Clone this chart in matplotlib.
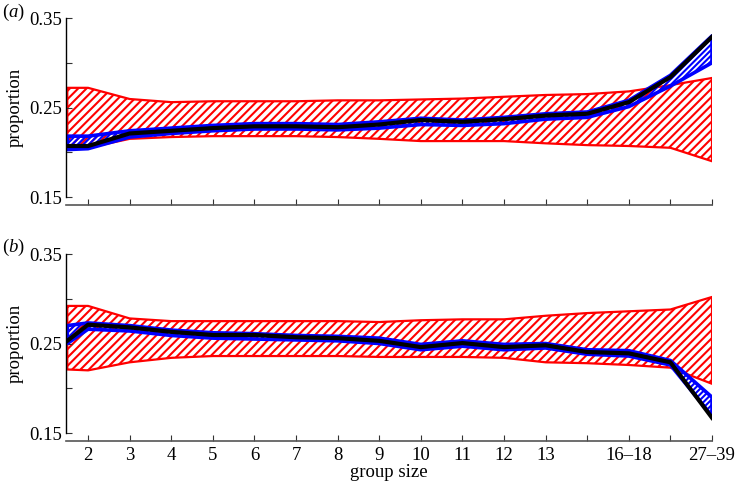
import matplotlib
matplotlib.use("Agg")

import matplotlib.pyplot as plt
import numpy as np

plt.rcParams["font.family"] = ["Liberation Serif", "DejaVu Serif"]
plt.rcParams["mathtext.fontset"] = "custom"
plt.rcParams["mathtext.rm"] = "Liberation Serif"
plt.rcParams["mathtext.it"] = "Liberation Serif:italic"
plt.rcParams["hatch.linewidth"] = 1.5

# category positions (first point sits at the clipped left edge)
pos = [1.5, 2, 3, 4, 5, 6, 7, 8, 9, 10, 11, 12, 13, 14, 15, 16, 17]
tick_pos = [2, 3, 4, 5, 6, 7, 8, 9, 10, 11, 12, 13, 14, 15, 16, 17]
tick_labels = ["2", "3", "4", "5", "6", "7", "8", "9", "10", "11", "12",
               "13", "", "16\u201318", "", "27\u201339"]

# panel (a)
red_hi_a = [0.272, 0.272, 0.2595, 0.256, 0.257, 0.257, 0.257, 0.258, 0.258,
            0.259, 0.260, 0.262, 0.264, 0.265, 0.268, 0.275, 0.283]
red_lo_a = [0.204, 0.205, 0.215, 0.217, 0.218, 0.218, 0.218, 0.217, 0.215,
            0.2125, 0.2125, 0.2125, 0.210, 0.208, 0.207, 0.205, 0.190]
blue_hi_a = [0.218, 0.218, 0.224, 0.227, 0.230, 0.232, 0.232, 0.231, 0.234,
             0.238, 0.236, 0.239, 0.243, 0.245, 0.258, 0.286, 0.330]
blue_lo_a = [0.203, 0.204, 0.217, 0.221, 0.224, 0.226, 0.226, 0.225, 0.227,
             0.231, 0.230, 0.232, 0.237, 0.239, 0.251, 0.274, 0.300]
black_a = [0.207, 0.207, 0.221, 0.224, 0.227, 0.229, 0.229, 0.228, 0.231,
           0.236, 0.234, 0.237, 0.241, 0.243, 0.256, 0.284, 0.329]

# panel (b)
red_hi_b = [0.292, 0.292, 0.278, 0.275, 0.275, 0.275, 0.275, 0.275, 0.274,
            0.276, 0.277, 0.277, 0.281, 0.284, 0.286, 0.288, 0.302]
red_lo_b = [0.221, 0.220, 0.229, 0.234, 0.236, 0.236, 0.236, 0.236, 0.235,
            0.235, 0.235, 0.234, 0.229, 0.228, 0.226, 0.223, 0.205]
blue_hi_b = [0.270, 0.273, 0.270, 0.265, 0.262, 0.261, 0.259, 0.258, 0.256,
             0.249, 0.253, 0.249, 0.250, 0.243, 0.242, 0.231, 0.190]
blue_lo_b = [0.250, 0.266, 0.264, 0.259, 0.256, 0.255, 0.254, 0.253, 0.250,
             0.243, 0.247, 0.243, 0.245, 0.238, 0.236, 0.226, 0.169]
black_b = [0.253, 0.271, 0.268, 0.263, 0.2595, 0.2595, 0.257, 0.256, 0.253,
           0.246, 0.2505, 0.246, 0.248, 0.2405, 0.239, 0.229, 0.167]

fig = plt.figure(figsize=(7.37, 4.83), dpi=100)
ax_a = fig.add_axes([0.0896, 0.5921, 0.8765, 0.3706])
ax_b = fig.add_axes([0.0896, 0.1035, 0.8765, 0.3706])


def draw_panel(ax, red_hi, red_lo, blue_hi, blue_lo, black, show_labels):
    ax.fill_between(pos, red_lo, red_hi, facecolor="none", edgecolor="red",
                    hatch="////", linewidth=1.6, zorder=1)
    ax.fill_between(pos, blue_lo, blue_hi, facecolor="none", edgecolor="blue",
                    hatch="//////", linewidth=2.6, zorder=2)
    ax.plot(pos, black, color="black", linewidth=3.0, zorder=3)

    ax.set_xlim(1.47, 17)
    ax.set_ylim(0.15, 0.35)
    ax.set_yticks([0.15, 0.20, 0.25, 0.30, 0.35])
    ax.set_yticklabels(["0.15", "", "0.25", "", "0.35"])
    ax.set_xticks(tick_pos)
    if show_labels:
        ax.set_xticklabels(tick_labels)
    else:
        ax.set_xticklabels([])
    ax.tick_params(direction="in", length=4, labelsize=13.5, width=0.8,
                   colors="#333333", labelcolor="black")
    ax.tick_params(axis="x", pad=4)
    ax.tick_params(axis="y", pad=3)

    for s in ["top", "right"]:
        ax.spines[s].set_visible(False)
    ax.spines["bottom"].set_position(("outward", 6))
    ax.spines["bottom"].set_color("#555555")
    ax.spines["bottom"].set_linewidth(1.2)
    ax.spines["left"].set_linewidth(1.0)
    ax.set_ylabel("proportion", fontsize=13.5, labelpad=4)


draw_panel(ax_a, red_hi_a, red_lo_a, blue_hi_a, blue_lo_a, black_a, False)
draw_panel(ax_b, red_hi_b, red_lo_b, blue_hi_b, blue_lo_b, black_b, True)
ax_b.set_xlabel("group size", fontsize=13.5, labelpad=0)

fig.text(0.003, 0.975, "($\\mathit{a}$)", fontsize=13.5, va="center")
fig.text(0.003, 0.487, "($\\mathit{b}$)", fontsize=13.5, va="center")

fig.savefig("out.png", dpi=100)
